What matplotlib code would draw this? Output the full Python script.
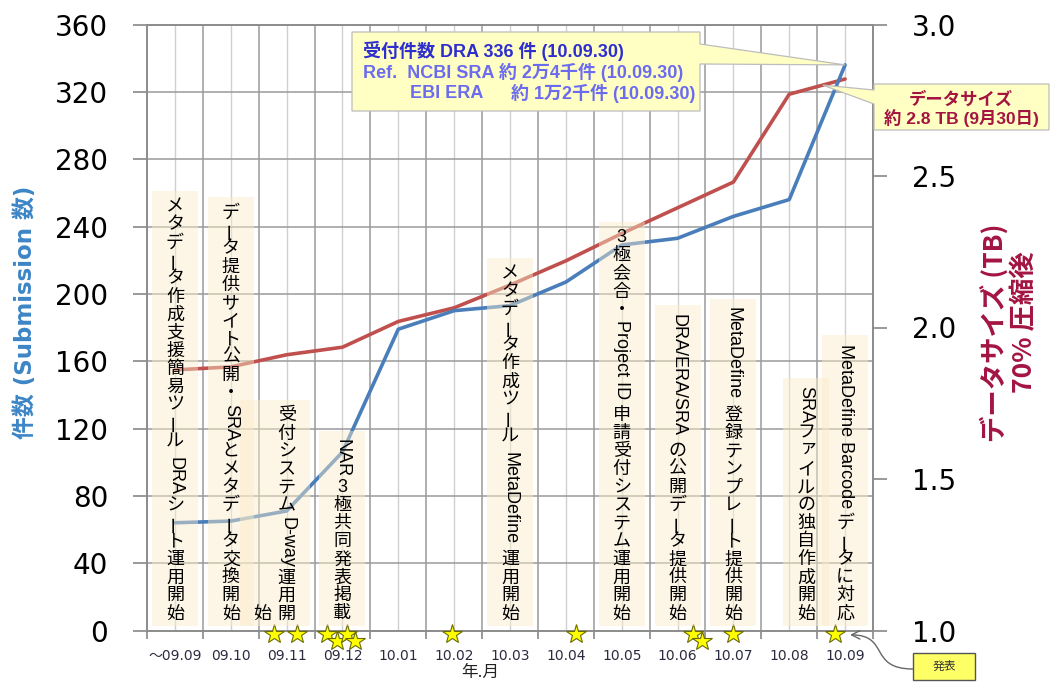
import re
import matplotlib
matplotlib.use("Agg")
import matplotlib.pyplot as plt
from matplotlib.patches import Polygon, Rectangle, FancyArrowPatch
from matplotlib.path import Path
from matplotlib.transforms import IdentityTransform

CJK = "Noto Sans CJK JP"
plt.rcParams["font.family"] = ["DejaVu Sans", CJK]

# ---- data -------------------------------------------------------------
months = ["～09.09", "09.10", "09.11", "09.12", "10.01", "10.02", "10.03",
          "10.04", "10.05", "10.06", "10.07", "10.08", "10.09"]
submissions = [64, 65, 71, 106, 179, 190, 193, 207, 229, 233, 246, 256, 336]
data_size_tb = [1.86, 1.87, 1.91, 1.935, 2.02, 2.065, 2.14, 2.22, 2.31,
                2.395, 2.48, 2.77, 2.82]
left_ticks = list(range(0, 361, 40))
right_ticks = [1.0, 1.5, 2.0, 2.5, 3.0]

# milestones written vertically above the month axis ("\n" = next column)
milestone_at = [0, 1, 2, 3, 6, 8, 9, 10, 11.3, 12]
milestone_text = [
    "メタデータ作成支援簡易ツール DRAシート運用開始",
    "データ提供サイト公開・SRAとメタデータ交換開始",
    "受付システムD-way運用開\n始",
    "NAR3極共同発表掲載",
    "メタデータ作成ツール MetaDefine 運用開始",
    "3極会合・Project ID 申請受付システム運用開始",
    "DRA/ERA/SRA の公開データ提供開始",
    "MetaDefine 登録テンプレート提供開始",
    "SRAファイルの独自作成開始",
    "MetaDefine Barcode データに対応",
]

# publication events (stars under the axis)
star_at = [1.78, 2.18, 2.72, 2.90, 3.08, 3.22, 4.97, 7.19, 9.27, 9.43, 9.99, 11.82]
star_level = [-2, -2, -2, -6, -2, -6, -2, -2, -2, -6, -2, -2]

# ---- figure / axes ----------------------------------------------------
W, H = 1051, 689
fig = plt.figure(figsize=(W / 100, H / 100), dpi=100)
L, R, T, B = 147, 873, 24.5, 630.5
ax = fig.add_axes([L / W, 1 - B / H, (R - L) / W, (B - T) / H])
ax2 = ax.twinx()
PX = IdentityTransform()


def disp(x, y_top):
    """pixel position measured from the top-left corner -> display coords"""
    return (x, H - y_top)


x = list(range(len(months)))
ax.set_xlim(-0.5, len(months) - 0.5)
ax.set_ylim(0, 360)
ax2.set_ylim(1.0, 3.0)

BLUE = "#4A7EBB"
RED = "#C0504D"
ax2.plot(x, data_size_tb, color=RED, lw=2.6, solid_capstyle="round", zorder=2)
ax2.plot(x, submissions, color=BLUE, lw=2.6, solid_capstyle="round",
         transform=ax.transData, zorder=3)
ax2.set_ylim(1.0, 3.0)
ax2.set_xlim(-0.5, len(months) - 0.5)

# grid: month boundaries (major) and month centres (minor)
ax.set_xticks([i - 0.5 for i in range(len(months) + 1)])
ax.set_xticklabels([])
ax.set_xticks(x, minor=True)
ax.set_xticklabels(months, minor=True)
ax.tick_params(axis="x", which="major", length=6, color="#888888", width=1.2)
ax.tick_params(axis="x", which="minor", length=0, pad=13, labelsize=10,
               labelcolor="#2B2B40")
ax.grid(True, which="major", axis="both", color="#9A9A9A", lw=1.1)
ax.grid(True, which="minor", axis="x", color="#D0D0D0", lw=1.0)

ax.set_yticks(left_ticks)
ax.tick_params(axis="y", length=10, width=1.2, color="#888888", pad=18,
               labelsize=20)
ax2.set_yticks(right_ticks)
ax2.set_yticklabels([f"{v:.1f}" for v in right_ticks])
ax2.tick_params(axis="y", length=10, width=1.2, color="#888888", pad=18,
                labelsize=20)
for a in (ax, ax2):
    for s in a.spines.values():
        s.set_color("#8C8C8C")
        s.set_linewidth(1.2)

# stars
ax2.plot(star_at, star_level, ls="none", marker="*", ms=15, mfc="#FFFF00",
         mec="#6B6B00", mew=0.8, clip_on=False, transform=ax.transData,
         zorder=6)

# ---- axis titles ------------------------------------------------------
fig.text(*disp(26, 312), "件数 (Submission 数)", rotation=90, ha="center",
         va="center", fontsize=16.5, fontweight="bold", color="#3D85C6",
         transform=PX)
fig.text(*disp(994, 333), "データサイズ (TB)", rotation=90, ha="center",
         va="center", fontsize=19, fontweight="bold", color="#A31441",
         family=[CJK], transform=PX)
fig.text(*disp(1025, 322), "70% 圧縮後", rotation=90, ha="center",
         va="center", fontsize=19, fontweight="bold", color="#A31441",
         family=[CJK], transform=PX)
fig.text(*disp(480, 672), "年.月", ha="center", va="center", fontsize=12,
         family=[CJK], color="#222222", transform=PX)

# ---- vertical milestone notes ----------------------------------------
renderer = fig.canvas.get_renderer()
VFONT = ["Liberation Sans", CJK]
VSIZE = 13
EM = VSIZE * fig.dpi / 72
TOKEN = re.compile(r"[A-Za-z][A-Za-z/\- ]*[A-Za-z]|[A-Za-z]|.")
SMALL = set("ッィァャュョ")


def vertical_column(xc, bottom, text):
    items = []
    for tok in TOKEN.findall(text):
        if tok[0].isascii() and tok[0].isalpha():
            t = fig.text(0, 0, tok, rotation=270, ha="center", va="top",
                         fontsize=VSIZE, family=VFONT, transform=PX, zorder=5)
            n = t.get_window_extent(renderer).height + 0.15 * EM
            items.append((t, n, "run", tok))
        elif tok == " ":
            items.append((None, 0.3 * EM, "space", tok))
        else:
            rot = 90 if tok == "ー" else 0
            t = fig.text(0, 0, tok, rotation=rot, ha="center", va="center",
                         fontsize=VSIZE, family=VFONT, transform=PX, zorder=5)
            items.append((t, EM, "char", tok))
    total = sum(n for _, n, _, _ in items)
    y = bottom - total
    top = y
    for t, n, kind, tok in items:
        if kind == "run":
            t.set_position(disp(xc, y + 0.07 * EM))
        elif kind == "char":
            dx, dy = (0.15 * EM, -0.15 * EM) if tok in SMALL else (0, 0)
            t.set_position(disp(xc + dx, y + n / 2 + dy))
        y += n
    return top


TEXT_BOTTOM, BOX_BOTTOM = 623, 626
COL_GAP = 24
for at, text in zip(milestone_at, milestone_text):
    xc = ax.transData.transform((at, 0))[0]
    cols = text.split("\n")
    tops = [vertical_column(xc - i * COL_GAP, TEXT_BOTTOM, c)
            for i, c in enumerate(cols)]
    top = min(tops) - 7
    x0 = xc - (len(cols) - 1) * COL_GAP - 23
    x1 = xc + 23
    fig.add_artist(Rectangle(disp(x0, BOX_BOTTOM), x1 - x0, BOX_BOTTOM - top,
                             transform=PX, facecolor="#FBEDC9", alpha=0.45,
                             edgecolor="none", zorder=1))

# ---- callouts ---------------------------------------------------------
CALLOUT_FC = "#FFFFC4"
CALLOUT_EC = "#BDBDBD"
tip1 = ax.transData.transform((x[-1], submissions[-1]))
tip1 = (tip1[0], H - tip1[1])
box1 = [(352, 32), (700, 32), (700, 44), tip1, (700, 64), (700, 111), (352, 111)]
fig.add_artist(Polygon([disp(*p) for p in box1], closed=True, transform=PX,
                       facecolor=CALLOUT_FC, edgecolor=CALLOUT_EC, lw=0.9,
                       zorder=6))
LFONT = ["Liberation Sans", CJK]
fig.text(*disp(363, 51), f"受付件数 DRA {submissions[-1]} 件 (10.09.30)",
         ha="left", va="center", fontsize=13, fontweight="bold",
         color="#2E2ECF", family=LFONT, transform=PX, zorder=7)
fig.text(*disp(363, 72), "Ref.  NCBI SRA 約 2万4千件 (10.09.30)",
         ha="left", va="center", fontsize=13, fontweight="bold",
         color="#6B6BF0", family=LFONT, transform=PX, zorder=7)
fig.text(*disp(410, 93), "EBI ERA", ha="left", va="center", fontsize=13,
         fontweight="bold", color="#6B6BF0", family=LFONT, transform=PX,
         zorder=7)
fig.text(*disp(695, 93), "約 1万2千件 (10.09.30)", ha="right", va="center",
         fontsize=13, fontweight="bold", color="#6B6BF0", family=LFONT,
         transform=PX, zorder=7)

# data-size callout points onto the last red segment
frac = 0.6
tx = x[-2] + frac * (x[-1] - x[-2])
ty = data_size_tb[-2] + frac * (data_size_tb[-1] - data_size_tb[-2])
tip2 = ax2.transData.transform((tx, ty))
tip2 = (tip2[0], H - tip2[1])
box2 = [(874, 84), (1049, 84), (1049, 130), (874, 130), (874, 104), tip2,
        (874, 90)]
fig.add_artist(Polygon([disp(*p) for p in box2], closed=True, transform=PX,
                       facecolor=CALLOUT_FC, edgecolor=CALLOUT_EC, lw=0.9,
                       zorder=6))
fig.text(*disp(961, 99), "データサイズ", ha="center", va="center", fontsize=12.5,
         fontweight="bold", color="#A31441", family=LFONT, transform=PX,
         zorder=7)
fig.text(*disp(961, 118), f"約 {data_size_tb[-1]:.1f} TB (9月30日)",
         ha="center", va="center", fontsize=12.5, fontweight="bold",
         color="#A31441", family=LFONT, transform=PX, zorder=7)

# ---- "発表" key with curved pointer to the last star -------------------
fig.add_artist(Rectangle(disp(913, 680), 62, 27, transform=PX,
                         facecolor="#FFFF66", edgecolor="#555555", lw=1.0,
                         zorder=6))
fig.text(*disp(944, 666.5), "発表", ha="center", va="center", fontsize=8.5,
         family=[CJK], color="#333333", transform=PX, zorder=7)
sx, sy = ax.transData.transform((star_at[-1], star_level[-1]))
end = (sx + 15, sy - 1)
start = disp(913, 669)
curve = Path([start, (start[0] - 45, start[1]), (end[0] + 40, end[1]), end],
             [Path.MOVETO, Path.CURVE4, Path.CURVE4, Path.CURVE4])
fig.add_artist(FancyArrowPatch(path=curve, transform=PX,
                               arrowstyle="->,head_length=6,head_width=3",
                               color="#666666", lw=1.0, zorder=6))

fig.savefig("out.png", dpi=100)
